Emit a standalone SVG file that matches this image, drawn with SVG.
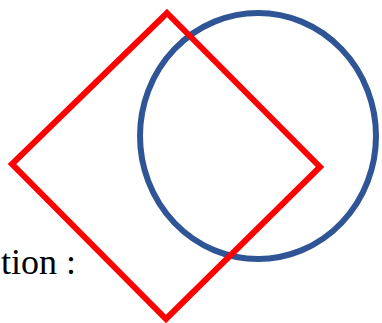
<svg xmlns="http://www.w3.org/2000/svg" width="382" height="323" viewBox="0 0 382 323">
<style>
.circ{fill:none;stroke:#2F5597;stroke-width:6}
.dia{fill:none;stroke:#FF0000;stroke-width:6;stroke-linejoin:miter}
.lbl{font-family:"Liberation Serif",serif;font-size:36px;fill:#000}
</style>
<rect width="382" height="323" fill="#fff"/>
<g id="circle"><ellipse class="circ" cx="258" cy="136" rx="118" ry="123"/></g>
<g id="diamond"><polygon class="dia" points="167,13 320,167 166,319 12,164"/></g>
<g id="label"><text class="lbl" x="1" y="274">tion :</text></g>
</svg>
